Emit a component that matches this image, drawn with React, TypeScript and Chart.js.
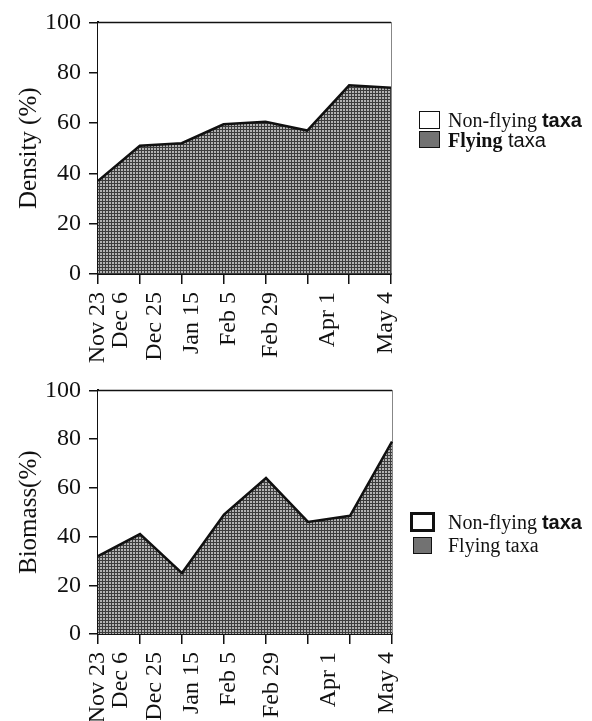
import React, { useEffect, useRef } from "react";
import { Chart, registerables } from "chart.js";

Chart.register(...registerables);

// ---- data ----
const dateLabels = ["Nov 23", "Dec 6", "Dec 25", "Jan 15", "Feb 5", "Feb 29", "Apr 1", "May 4"];
const dateDays = [0, 13, 32, 53, 74, 98, 130, 163];
const yLabelTicks = [0, 20, 40, 60, 80, 100];

const densityFlying = [37, 51, 52, 59.5, 60.5, 57, 75, 74];
const densityNonFlying = [63, 49, 48, 40.5, 39.5, 43, 25, 26];
const biomassFlying = [32, 41, 25, 49, 64, 46, 48.5, 79];
const biomassNonFlying = [68, 59, 75, 51, 36, 54, 51.5, 21];

const SERIF = '"Liberation Serif", "Times New Roman", serif';
const SANS = '"Liberation Sans", Arial, sans-serif';
const FILL = "#727272";
const INK = "#111111";

function makePattern(): CanvasPattern | string {
  const c = document.createElement("canvas");
  c.width = 3;
  c.height = 3;
  const g = c.getContext("2d");
  if (!g) return FILL;
  g.fillStyle = "#b2b2b2";
  g.fillRect(0, 0, 3, 3);
  g.fillStyle = "#3c3c3c";
  g.fillRect(0, 0, 3, 1);
  g.fillRect(0, 0, 1, 3);
  const p = g.createPattern(c, "repeat");
  return p || FILL;
}

type AreaProps = {
  flying: number[];
  nonFlying: number[];
  title: string;
  top: number;
  height: number;
  right: number;
};

function AreaChart({ flying, nonFlying, title, top, height, right }: AreaProps) {
  const ref = useRef<HTMLCanvasElement | null>(null);
  useEffect(() => {
    if (!ref.current) return;
    const chart = new Chart(ref.current, {
      type: "line",
      data: {
        labels: dateLabels,
        datasets: [
          {
            label: "Flying taxa",
            data: flying,
            fill: "origin",
            backgroundColor: makePattern(),
            borderColor: INK,
            borderWidth: 2.5,
            pointRadius: 0,
            tension: 0,
            clip: 4,
          },
          {
            label: "Non-flying taxa",
            data: nonFlying,
            fill: "-1",
            backgroundColor: "#ffffff",
            borderColor: INK,
            borderWidth: 1.5,
            pointRadius: 0,
            tension: 0,
            clip: 4,
          },
        ],
      },
      options: {
        responsive: false,
        animation: false,
        devicePixelRatio: 1,
        layout: { padding: { top: 16, left: 0, right: 592 - right, bottom: 0 } },
        plugins: { legend: { display: false }, tooltip: { enabled: false } },
        scales: {
          x: {
            type: "category",
            position: "bottom",
            weight: 0,
            offset: false,
            ticks: { display: false },
            grid: { drawOnChartArea: false, tickLength: 10, color: INK, lineWidth: 1.5 },
            border: { color: INK, width: 2 },
            afterFit: (s: any) => {
              s.height = 11;
            },
          },
          x2: {
            type: "linear",
            position: "bottom",
            weight: 1,
            min: 0,
            max: 166,
            grid: { display: false, drawTicks: false, tickLength: 0 },
            border: { display: false },
            afterBuildTicks: (s: any) => {
              s.ticks = dateDays.map((v) => ({ value: v }));
            },
            ticks: {
              autoSkip: false,
              minRotation: 90,
              maxRotation: 90,
              padding: 7,
              color: INK,
              font: { family: SERIF, size: 24 },
              callback: (v: any) => {
                const i = dateDays.indexOf(Number(v));
                return i >= 0 ? dateLabels[i] : "";
              },
            },
            afterFit: (s: any) => {
              s.height = 90;
            },
          },
          y: {
            type: "linear",
            position: "left",
            stacked: true,
            min: 0,
            max: 100,
            ticks: {
              stepSize: 10,
              padding: 8,
              color: INK,
              font: { family: SERIF, size: 24 },
              callback: (v: any) => (yLabelTicks.includes(Number(v)) ? String(v) : ""),
            },
            grid: { drawOnChartArea: false, tickLength: 9, color: INK, lineWidth: 1.5 },
            border: { color: INK, width: 2 },
            title: {
              display: true,
              text: title,
              color: INK,
              font: { family: SERIF, size: 25 },
              padding: { top: 14, bottom: 0 },
            },
            afterFit: (s: any) => {
              s.width = 98;
            },
          },
          yr: {
            type: "linear",
            position: "right",
            min: 0,
            max: 100,
            ticks: { display: false },
            grid: { display: false, drawTicks: false },
            border: { display: true, color: INK, width: 1.5 },
            afterFit: (s: any) => {
              s.width = 0;
            },
          },
        },
      } as any,
    });
    return () => chart.destroy();
  }, [flying, nonFlying, title, right]);

  return (
    <canvas
      ref={ref}
      width={592}
      height={height}
      style={{ position: "absolute", left: 0, top, width: 592, height }}
    />
  );
}

type Piece = { text: string; font: string; bold?: boolean };

function LegendRow({
  boxLeft,
  boxTop,
  boxW,
  boxH,
  border,
  fill,
  center,
  pieces,
}: {
  boxLeft: number;
  boxTop: number;
  boxW: number;
  boxH: number;
  border: number;
  fill: string;
  center: number;
  pieces: Piece[];
}) {
  return (
    <>
      <div
        style={{
          position: "absolute",
          left: boxLeft,
          top: boxTop,
          width: boxW,
          height: boxH,
          boxSizing: "border-box",
          border: `${border}px solid ${INK}`,
          background: fill,
        }}
      />
      <div
        style={{
          position: "absolute",
          left: 448,
          top: center - 12,
          height: 24,
          lineHeight: "24px",
          fontSize: 20,
          color: INK,
          whiteSpace: "nowrap",
        }}
      >
        {pieces.map((p, i) => (
          <span key={i} style={{ fontFamily: p.font, fontWeight: p.bold ? "bold" : "normal" }}>
            {p.text}
          </span>
        ))}
      </div>
    </>
  );
}

export default function App() {
  return (
    <div
      style={{
        position: "fixed",
        left: 0,
        top: 0,
        width: 592,
        height: 721,
        overflow: "hidden",
        background: "#ffffff",
      }}
    >
      <AreaChart flying={densityFlying} nonFlying={densityNonFlying} title="Density (%)" top={0} height={375} right={391} />
      <AreaChart flying={biomassFlying} nonFlying={biomassNonFlying} title="Biomass(%)" top={368} height={367} right={392} />

      <LegendRow
        boxLeft={419}
        boxTop={111}
        boxW={21}
        boxH={18}
        border={1.5}
        fill="#ffffff"
        center={120}
        pieces={[
          { text: "Non-flying ", font: SERIF },
          { text: "taxa", font: SANS, bold: true },
        ]}
      />
      <LegendRow
        boxLeft={419}
        boxTop={131}
        boxW={21}
        boxH={17}
        border={1.5}
        fill={FILL}
        center={140}
        pieces={[
          { text: "Flying", font: SERIF, bold: true },
          { text: " taxa", font: SANS },
        ]}
      />

      <LegendRow
        boxLeft={410}
        boxTop={512}
        boxW={25}
        boxH={20}
        border={3}
        fill="#ffffff"
        center={522}
        pieces={[
          { text: "Non-flying ", font: SERIF },
          { text: "taxa", font: SANS, bold: true },
        ]}
      />
      <LegendRow
        boxLeft={413}
        boxTop={537}
        boxW={19}
        boxH={17}
        border={1.5}
        fill={FILL}
        center={545}
        pieces={[{ text: "Flying taxa", font: SERIF }]}
      />
    </div>
  );
}
